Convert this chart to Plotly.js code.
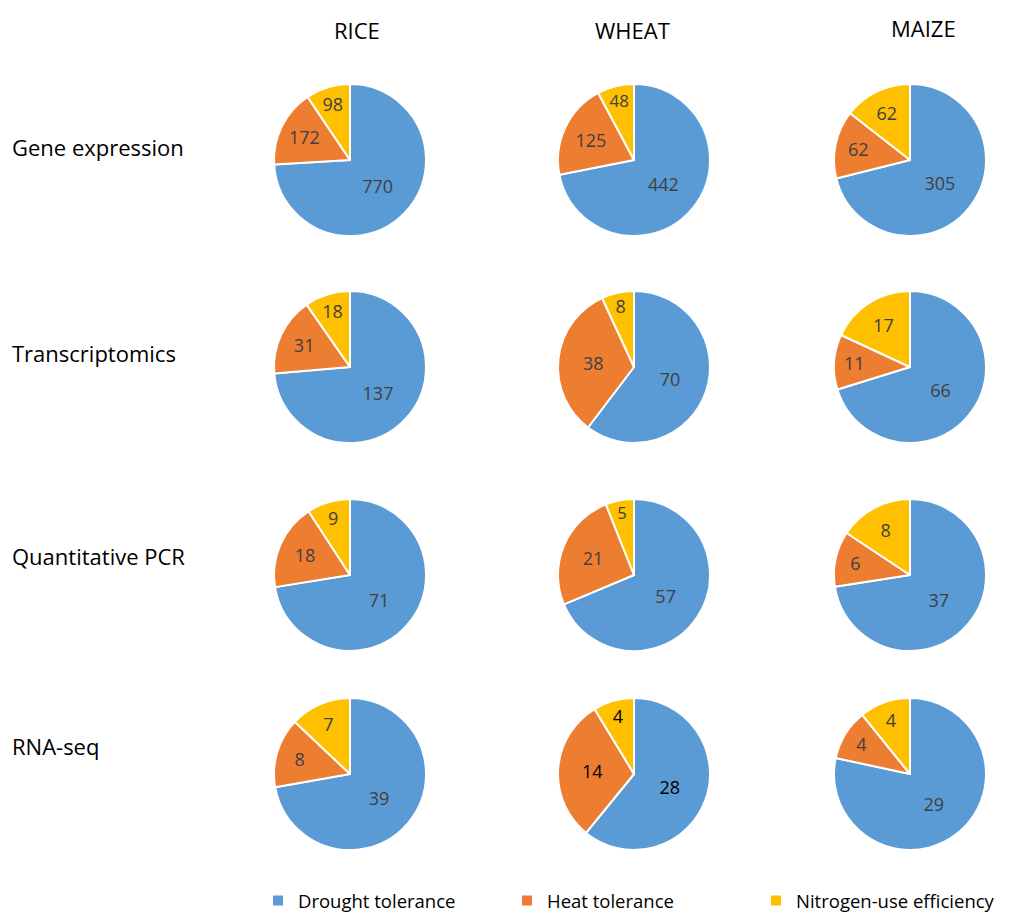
<!DOCTYPE html>
<html>
<head>
<meta charset="utf-8">
<script src="https://cdn.plot.ly/plotly-3.0.1.min.js"></script>
<style>html,body{margin:0;padding:0;background:#fff;}#chart{width:1017px;height:916px;}</style>
</head>
<body>
<div id="chart"></div>
<script>
const crops = ["RICE", "WHEAT", "MAIZE"];
const methods = ["Gene expression", "Transcriptomics", "Quantitative PCR", "RNA-seq"];
const traits = ["Drought tolerance", "Heat tolerance", "Nitrogen-use efficiency"];
const colors = ["#5B9BD5", "#ED7D31", "#FFC000"];

// values[method][crop] = [drought, heat, nitrogen]
const geneExpression   = [[770, 172, 98], [442, 125, 48], [305, 62, 62]];
const transcriptomics  = [[137, 31, 18], [70, 38, 8], [66, 11, 17]];
const quantitativePCR  = [[71, 18, 9], [57, 21, 5], [37, 6, 8]];
const rnaSeq           = [[39, 8, 7], [28, 14, 4], [29, 4, 4]];
const values = [geneExpression, transcriptomics, quantitativePCR, rnaSeq];

const W = 1017, H = 916;
const colCenters = [350, 634, 910];
const rowCenters = [160, 367, 575, 774];
const R = 76;

const data = [];
values.forEach((row, ri) => {
  row.forEach((vals, ci) => {
    const cx = colCenters[ci], cy = rowCenters[ri];
    const tc = (ri === 3 && ci === 1) ? ["#000000", "#000000", "#000000"] : ["#404040", "#404040", "#404040"];
    data.push({
      type: "pie",
      labels: traits,
      values: vals,
      sort: false,
      direction: "clockwise",
      rotation: 0,
      textinfo: "value",
      textposition: "inside",
      insidetextorientation: "horizontal",
      textfont: {family: "Open Sans, sans-serif", size: 18, color: tc},
      marker: {colors: colors, line: {color: "#ffffff", width: 2}},
      domain: {
        x: [(cx - R) / W, (cx + R) / W],
        y: [(H - (cy + R)) / H, (H - (cy - R)) / H]
      },
      showlegend: ri === 0 && ci === 0,
      hoverinfo: "label+value"
    });
  });
});

const annotations = [];
const headerX = [357, 632, 923];
const headerY = [30, 30, 28];
crops.forEach((c, i) => {
  annotations.push({
    text: c, x: headerX[i] / W, y: 1 - headerY[i] / H, xref: "paper", yref: "paper",
    showarrow: false, xanchor: "center", yanchor: "middle",
    font: {family: "Open Sans, sans-serif", size: 22, color: "#000"}
  });
});
const rowLabelY = [147, 353, 556, 746];
methods.forEach((m, i) => {
  annotations.push({
    text: m, x: 10 / W, y: 1 - rowLabelY[i] / H, xref: "paper", yref: "paper",
    showarrow: false, xanchor: "left", yanchor: "middle",
    font: {family: "Open Sans, sans-serif", size: 22, color: "#000"}
  });
});

const layout = {
  width: W, height: H,
  margin: {l: 0, r: 0, t: 0, b: 0, autoexpand: false},
  paper_bgcolor: "#fff",
  annotations: annotations,
  legend: {
    orientation: "h",
    x: 258 / W, xanchor: "left",
    y: 1 - 901 / H, yanchor: "middle",
    font: {family: "Open Sans, sans-serif", size: 18.5, color: "#000"},
    entrywidth: 204, entrywidthmode: "pixels",
    traceorder: "normal"
  }
};

Plotly.newPlot("chart", data, layout, {displayModeBar: false});
</script>
</body>
</html>
